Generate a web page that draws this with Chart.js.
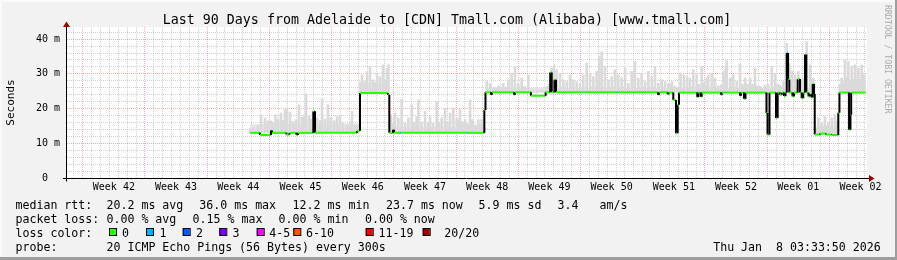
<!DOCTYPE html>
<html>
<head>
<meta charset="utf-8" />
<title>Last 90 Days from Adelaide to [CDN] Tmall.com</title>
<script src="https://cdn.jsdelivr.net/npm/chart.js"></script>
<style>
    body { margin: 0; background: #f2f2f2; }
    canvas { display: block; }
</style>
</head>
<body>
<canvas id="smoke" width="897" height="260"></canvas>
<script>
// x values are days from the left edge of the 90 day window
const weekNames = ['42', '43', '44', '45', '46', '47', '48', '49', '50', '51', '52', '01', '02'];
const firstMonday = 1.77; // where the "Week 42" line sits

// y grid every 2 ms, labels only every 10
const yLabelMs = [0, 10, 20, 30, 40];
const yLabels = ['0  ', '10 m', '20 m', '30 m', '40 m'];

// median rtt (ms), step points
const medianDay = [20.59, 21.71, 21.71, 22.95, 22.95, 23.06, 23.06, 24.69, 24.69, 25.03, 25.03, 25.82, 25.82, 25.99, 25.99,
    27.71, 27.71, 27.90, 27.90, 32.63, 32.63, 32.96, 32.96, 36.11, 36.11, 36.26, 36.26, 36.68, 36.68, 36.79, 36.79,
    37.46, 37.60, 44.97, 45.10, 46.95, 46.95, 47.08, 47.08, 47.70, 47.70, 47.81, 47.81, 50.29, 50.29, 50.40, 50.40,
    52.20, 52.20, 53.85, 53.85, 54.36, 54.36, 54.53, 54.53, 54.84, 54.84, 55.01, 55.01, 57.97, 58.08, 61.88, 61.99,
    66.49, 66.49, 66.60, 66.60, 67.58, 67.58, 67.69, 67.69, 68.21, 68.21, 68.51, 68.51, 68.70, 68.70, 68.85, 68.85,
    70.91, 70.91, 71.02, 71.02, 71.29, 71.29, 71.40, 71.40, 73.58, 73.58, 73.69, 73.69, 74.03, 74.14,
    75.71, 75.71, 75.83, 75.83, 76.16, 76.16, 76.33, 76.33, 78.69, 78.69, 78.81, 78.81, 79.03, 79.03,
    79.76, 79.76, 79.95, 79.95, 80.21, 80.21, 80.44, 80.44, 80.66, 80.66, 80.83, 80.83, 80.97, 80.97, 81.12, 81.12,
    81.26, 81.26, 81.62, 81.62, 81.79, 81.79, 82.20, 82.20, 82.46, 82.46, 82.65, 82.65, 82.83, 82.83, 83.03, 83.03,
    83.17, 83.17, 83.42, 83.42, 83.59, 83.59, 83.78, 83.78, 83.89, 83.89, 84.04, 84.04, 84.12, 84.12, 84.71, 84.71,
    85.39, 85.39, 86.06, 86.06, 86.77, 86.77, 86.90, 86.90, 87.98, 87.98, 88.14, 88.14, 88.22, 88.22, 89.85];
const medianMs = [13.0, 13.0, 12.4, 12.4, 13.7, 13.7, 13.0, 13.0, 12.5, 12.5, 13.0, 13.0, 12.4, 12.4, 13.0,
    13.0, 19.2, 19.2, 13.0, 13.0, 13.6, 13.6, 24.5, 24.5, 24.0, 24.0, 13.0, 13.0, 13.9, 13.9, 13.0,
    13.0, 13.0, 13.0, 13.0, 13.0, 19.6, 19.6, 24.7, 24.7, 24.0, 24.0, 24.7, 24.7, 24.0, 24.0, 24.7,
    24.7, 23.7, 23.7, 24.7, 24.7, 30.4, 30.4, 24.7, 24.7, 28.3, 28.3, 24.7, 24.7, 24.7, 24.7, 24.7,
    24.7, 24.0, 24.0, 24.7, 24.7, 24.1, 24.1, 24.6, 24.6, 22.5, 22.5, 12.9, 12.9, 21.1, 21.1, 24.6,
    24.6, 23.3, 23.3, 24.6, 24.6, 23.4, 23.4, 24.6, 24.6, 24.0, 24.0, 24.6, 24.6, 24.6,
    24.6, 23.7, 23.7, 24.6, 24.6, 22.8, 22.8, 24.6, 24.6, 18.7, 18.7, 12.5, 12.5, 24.6,
    24.6, 17.3, 17.3, 24.6, 24.6, 24.0, 24.0, 24.6, 24.6, 23.6, 23.6, 24.6, 24.6, 36.0, 36.0, 28.3,
    28.3, 24.6, 24.6, 23.5, 23.5, 24.6, 24.6, 28.5, 28.5, 24.6, 24.6, 23.0, 23.0, 24.6, 24.6, 35.6,
    35.6, 24.6, 24.6, 23.5, 23.5, 24.2, 24.2, 23.2, 23.2, 27.1, 27.1, 24.2, 24.2, 12.5, 12.5, 12.8,
    12.8, 12.5, 12.5, 12.4, 12.4, 18.8, 18.8, 24.6, 24.6, 13.9, 13.9, 18.2, 18.2, 24.6, 24.6];
// ends of the short stretches where 1 of 20 pings was lost
const lossOneEnds = [37.60, 45.10, 58.08, 61.99, 74.14, 81.12, 84.12];

// smoke: highest ping per slot (ms)
const smokeDay = [20.59, 20.93, 21.26, 21.49, 21.83, 22.28, 22.61, 22.95, 23.18, 23.46, 23.74, 24.08, 24.30, 24.53, 24.75,
    25.09, 25.43, 25.76, 26.10, 26.44, 26.66, 26.89, 27.23, 27.45, 28.13, 28.46, 28.69, 29.03, 29.36, 29.70, 30.04,
    30.38, 30.71, 31.05, 31.50, 31.84, 32.06, 32.40, 32.74,
    33.02, 33.19, 33.53, 33.75, 34.09, 34.43, 34.65, 34.88, 35.21, 35.55, 35.78, 36.00, 36.17,
    36.45, 36.68, 36.90, 37.27, 37.65, 38.03, 38.40, 38.78, 39.04, 39.34, 39.52, 39.88, 40.28, 40.61, 40.84, 41.18,
    41.59, 41.85, 42.15, 42.53, 42.81, 43.09, 43.46, 43.84, 44.02, 44.21, 44.40, 44.61, 44.78, 44.97, 45.17, 45.34,
    45.53, 45.73, 45.90, 46.09, 46.27, 46.46, 46.65, 46.84,
    47.22, 47.59, 47.96, 48.26, 48.52, 48.83, 49.08, 49.39, 49.65, 50.03, 50.40, 50.77, 51.15, 51.53, 51.90, 52.28,
    52.54, 52.84, 53.10, 53.40, 53.66, 53.97, 54.23, 54.53, 54.79, 55.09, 55.46, 55.84, 56.22, 56.59, 56.96, 57.34,
    57.71, 58.08, 58.47, 58.84, 59.21, 59.59, 59.88, 60.15, 60.53, 60.90, 61.28, 61.65, 62.02, 62.40, 62.78, 63.15,
    63.53, 63.90, 64.27, 64.65, 65.03, 65.40, 65.78, 66.15, 66.52, 66.90, 67.28, 67.65,
    67.84, 68.06, 68.40, 68.68, 69.02, 69.40, 69.77, 70.09, 70.46, 70.84, 71.10, 71.40, 71.66, 71.96, 72.14, 72.53,
    72.90, 73.24, 73.58, 73.84, 74.10, 74.21, 74.59, 74.96, 75.34, 75.71, 75.99, 76.28, 76.56, 76.84, 77.12, 77.40,
    77.68, 77.96, 78.19, 78.53, 78.86, 79.28, 79.65, 79.99, 80.21, 80.59, 80.97, 81.26, 81.53, 81.90, 82.27, 82.65,
    82.91, 83.21, 83.59, 83.96,
    84.26, 84.52, 84.71, 84.90, 85.09, 85.27, 85.46, 85.65, 85.84, 86.03, 86.21, 86.40, 86.59,
    86.96, 87.15, 87.34, 87.53, 87.72, 87.90, 88.09, 88.28, 88.47, 88.65, 88.84, 89.03, 89.22, 89.40, 89.55, 89.70];
const smokeTop = [14.2, 14.5, 14.0, 15.0, 18.2, 17.3, 16.5, 16.5, 16.0, 18.2, 17.0, 18.7, 16.5, 19.7, 20.1,
    19.0, 16.3, 16.8, 21.1, 17.5, 18.2, 24.2, 17.8, 17.0, 17.3, 16.5, 22.8, 17.0, 21.1, 17.5, 16.5,
    17.7, 18.0, 16.0, 15.5, 16.0, 19.2, 15.5, 15.3,
    27.5, 29.7, 27.8, 30.7, 32.1, 28.3, 27.5, 29.7, 29.2, 32.6, 28.0, 31.6, 32.6,
    18.2, 15.5, 18.7, 17.3, 22.7, 15.8, 17.3, 21.1, 16.0, 17.7, 22.5, 16.0, 19.2, 16.0, 17.7, 15.8,
    22.0, 16.0, 17.3, 20.1, 16.0, 18.7, 20.1, 17.3, 16.8, 19.7, 16.3, 15.5, 16.8, 15.8, 15.3, 22.5,
    16.8, 15.3, 15.3, 15.0, 16.8, 15.3, 16.8, 15.0,
    27.8, 27.3, 26.0, 26.0, 26.4, 26.0, 27.3, 26.2, 28.3, 30.2, 32.1, 27.3, 28.8, 26.4, 29.7, 25.4,
    25.0, 25.4, 25.0, 25.4, 25.2, 26.4, 27.0, 31.6, 32.6, 31.2, 30.2, 28.3, 27.8, 29.7, 28.3, 27.8,
    27.3, 29.7, 33.1, 30.2, 29.2, 30.7, 35.0, 36.4, 32.1, 28.3, 29.2, 31.2, 29.7, 28.8, 31.6, 27.3,
    30.7, 33.6, 28.8, 30.2, 27.8, 30.7, 29.2, 32.1, 27.3, 28.3, 27.8, 27.3,
    27.0, 27.8, 26.5, 26.0, 30.2, 29.7, 29.2, 28.8, 31.2, 29.7, 27.0, 32.1, 27.5, 28.8, 29.7, 30.2,
    28.8, 26.5, 26.8, 30.7, 32.1, 33.8, 28.8, 29.7, 27.8, 32.8, 27.0, 28.8, 27.0, 28.8, 27.0, 31.7,
    26.5, 26.4, 25.9, 26.8, 27.0, 32.1, 30.2, 27.0, 26.8, 27.8, 38.8, 33.0, 30.7, 29.7, 30.7, 27.8,
    28.5, 39.3, 32.6, 28.8,
    14.5, 17.3, 15.0, 15.8, 14.8, 17.7, 15.0, 15.8, 14.8, 17.3, 15.0, 18.2, 16.3,
    27.0, 28.8, 27.5, 34.0, 29.0, 33.6, 28.0, 32.1, 28.5, 32.6, 28.0, 31.7, 28.5, 32.6, 28.0, 29.7];

// dense smoke just above each median plateau
const bandFrom = [20.59, 32.96, 36.26, 47.08, 84.15, 86.90];
const bandTo = [32.96, 36.26, 46.95, 84.10, 86.77, 89.85];
const bandLow = [13.0, 24.5, 13.0, 24.7, 12.6, 24.6];
const bandHigh = [15.5, 27.3, 14.8, 26.0, 14.0, 27.0];

const lossNames = ['0', '1', '2', '3', '4-5', '6-10', '11-19', '20/20'];
const lossColors = ['#26ff00', '#00b8ff', '#0059ff', '#7e00ff', '#ff00ff', '#ff5500', '#ff0000', '#a00000'];

const rttStats = ['20.2 ms avg', '36.0 ms max', '12.2 ms min', '23.7 ms now', '5.9 ms sd', '3.4   am/s'];
const lossStats = ['0.00 % avg', '0.15 % max', '0.00 % min', '0.00 % now'];
const probeText = '20 ICMP Echo Pings (56 Bytes) every 300s';
const stamp = 'Thu Jan  8 03:33:50 2026';
const title = 'Last 90 Days from Adelaide to [CDN] Tmall.com (Alibaba) [www.tmall.com]';

const MONO = '"DejaVu Sans Mono", monospace';
const RED_GRID = 'rgba(255, 0, 0, 0.33)';
const GRAY_GRID = 'rgba(150, 150, 150, 0.45)';

// grid lines every day, red ones on mondays
const dayLines = [];
for (let d = firstMonday - 1; d < 90; d += 1) dayLines.push(+d.toFixed(2));
const isMonday = v => Math.abs(((v - firstMonday) % 7 + 7) % 7) < 0.01;
const yLines = [];
for (let v = 0; v <= 42; v += 2) yLines.push(v);

function plateauLow(d) {
    for (let i = 0; i < bandFrom.length; i++) {
        if (d >= bandFrom[i] - 0.01 && d <= bandTo[i] + 0.01) return bandLow[i];
    }
    return bandLow[0];
}

function bandPoints(vals) {
    const out = [];
    bandFrom.forEach((f, i) => {
        out.push({ x: f, y: vals[i] }, { x: bandTo[i], y: vals[i] }, { x: bandTo[i], y: null });
    });
    return out;
}

const decor = {
    id: 'decor',
    beforeDraw(chart) {
        const { ctx, chartArea: a } = chart;
        ctx.save();
        ctx.fillStyle = '#f2f2f2';
        ctx.fillRect(0, 0, 897, 260);
        ctx.fillStyle = '#fafafa';
        ctx.fillRect(0, 0, 897, 2);
        ctx.fillRect(0, 0, 2, 260);
        ctx.fillStyle = '#9e9e9e';
        ctx.fillRect(0, 257, 897, 3);
        ctx.fillRect(895, 0, 2, 260);
        ctx.fillStyle = '#ffffff';
        ctx.fillRect(a.left, a.top, a.right - a.left, a.bottom - a.top);
        ctx.restore();
    },
    afterDraw(chart) {
        const { ctx, chartArea: a } = chart;
        const y0 = Math.round(chart.scales.y.getPixelForValue(0)) + 0.5;
        const x0 = Math.round(a.left) - 0.5;
        ctx.save();
        // axes
        ctx.strokeStyle = '#000';
        ctx.lineWidth = 1;
        ctx.beginPath();
        ctx.moveTo(63, y0); ctx.lineTo(870, y0);
        ctx.moveTo(x0, y0 + 3); ctx.lineTo(x0, a.top - 2);
        ctx.stroke();
        ctx.fillStyle = '#9b0000';
        ctx.beginPath();
        ctx.moveTo(x0 - 3.5, a.top); ctx.lineTo(x0 + 3.5, a.top); ctx.lineTo(x0, a.top - 5.5);
        ctx.closePath(); ctx.fill();
        ctx.beginPath();
        ctx.moveTo(869, y0 - 3.5); ctx.lineTo(869, y0 + 3.5); ctx.lineTo(874.5, y0);
        ctx.closePath(); ctx.fill();

        // title
        ctx.fillStyle = '#000';
        ctx.font = '13.3px ' + MONO;
        ctx.textAlign = 'center';
        ctx.textBaseline = 'alphabetic';
        ctx.fillText(title, 447, 24);

        // legend
        ctx.font = '11.6px ' + MONO;
        ctx.textAlign = 'left';
        ctx.fillText('median rtt:', 15.5, 208.5);
        [106.5, 199.3, 292.6, 386, 478.6, 557.6].forEach((x, i) => ctx.fillText(rttStats[i], x, 208.5));
        ctx.fillText('packet loss:', 15.5, 222.5);
        [106.5, 192.6, 278.6, 365].forEach((x, i) => ctx.fillText(lossStats[i], x, 222.5));
        ctx.fillText('loss color:', 15.5, 236.5);
        const boxX = [109, 146, 182.7, 219.3, 256.7, 293.3, 365.7, 422.7];
        const textX = [122, 159.5, 196, 232.6, 269.3, 306, 378.6, 444.3];
        lossNames.forEach((n, i) => {
            ctx.fillStyle = lossColors[i];
            ctx.fillRect(boxX[i], 228, 7, 7);
            ctx.strokeStyle = '#000';
            ctx.strokeRect(boxX[i] + 0.5, 228.5, 7, 7);
            ctx.fillStyle = '#000';
            ctx.fillText(n, textX[i], 236.5);
        });
        ctx.fillText('probe:', 15.5, 250.5);
        ctx.fillText(probeText, 106.5, 250.5);
        ctx.textAlign = 'right';
        ctx.fillText(stamp, 880.7, 250.5);

        // watermark
        ctx.translate(884.5, 5);
        ctx.rotate(Math.PI / 2);
        ctx.textAlign = 'left';
        ctx.fillStyle = '#aaaaaa';
        ctx.font = '8.2px ' + MONO;
        ctx.fillText('RRDTOOL / TOBI OETIKER', 0, 0);
        ctx.restore();
    }
};

new Chart(document.getElementById('smoke'), {
    type: 'bar',
    data: {
        datasets: [
            {
                type: 'line',
                label: 'median rtt',
                data: medianDay.map((d, i) => ({ x: d, y: medianMs[i] })),
                borderColor: lossColors[0],
                borderWidth: 2,
                pointRadius: 0,
                tension: 0,
                order: 0,
                segment: {
                    borderColor: c => c.p0.parsed.x === c.p1.parsed.x ? '#000000'
                        : (lossOneEnds.includes(c.p1.parsed.x) ? lossColors[1] : lossColors[0])
                }
            },
            {
                type: 'bar',
                label: 'smoke',
                data: smokeDay.map((d, i) => ({ x: d, y: [plateauLow(d), smokeTop[i]] })),
                backgroundColor: '#dadada',
                borderWidth: 0,
                barThickness: 2,
                order: 1
            },
            {
                type: 'line',
                label: 'band',
                data: bandPoints(bandHigh),
                borderColor: 'rgba(0,0,0,0)',
                backgroundColor: '#e5e5e5',
                pointRadius: 0,
                fill: '+1',
                order: 2
            },
            {
                type: 'line',
                label: 'band base',
                data: bandPoints(bandLow),
                borderColor: 'rgba(0,0,0,0)',
                pointRadius: 0,
                fill: false,
                order: 3
            }
        ]
    },
    options: {
        responsive: false,
        animation: false,
        events: [],
        layout: { padding: { left: 0, top: 27, right: 30, bottom: 0 } },
        plugins: { legend: { display: false }, tooltip: { enabled: false }, title: { display: false } },
        scales: {
            x: {
                type: 'linear', position: 'bottom', min: 0, max: 90, bounds: 'data', offset: false, weight: 0,
                afterBuildTicks: s => { s.ticks = dayLines.map(v => ({ value: v })); },
                afterFit: s => { s.height = 0; s.paddingLeft = 0; s.paddingRight = 0; },
                ticks: { display: false, autoSkip: false },
                grid: {
                    offset: false, drawTicks: false, lineWidth: 1,
                    color: c => isMonday(c.tick.value) ? RED_GRID : GRAY_GRID
                },
                border: { display: false, dash: [1, 1] }
            },
            xw: {
                type: 'linear', axis: 'x', position: 'bottom', min: 0, max: 90, bounds: 'data', offset: false, weight: 1,
                afterBuildTicks: s => { s.ticks = weekNames.map((n, k) => ({ value: firstMonday + 3.5 + 7 * k })); },
                afterFit: s => { s.height = 82; s.paddingLeft = 0; s.paddingRight = 0; },
                ticks: {
                    autoSkip: false, maxRotation: 0, minRotation: 0, padding: 3, color: '#000',
                    font: { family: MONO, size: 10 },
                    callback: (v, i) => 'Week ' + weekNames[i]
                },
                grid: { display: false, drawTicks: false },
                border: { display: false }
            },
            y: {
                type: 'linear', min: 0, max: 43.5, bounds: 'data',
                afterBuildTicks: s => { s.ticks = yLines.map(v => ({ value: v })); },
                afterFit: s => { s.width = 67; s.paddingTop = 0; s.paddingBottom = 0; },
                ticks: {
                    autoSkip: false, padding: 7, color: '#000',
                    font: { family: MONO, size: 10 },
                    callback: v => {
                        const i = yLabelMs.indexOf(v);
                        return i < 0 ? '' : yLabels[i];
                    }
                },
                grid: {
                    drawTicks: false, lineWidth: 1,
                    color: c => c.tick.value % 10 === 0 ? RED_GRID : GRAY_GRID
                },
                border: { display: false, dash: [1, 1] },
                title: {
                    display: true, text: 'Seconds', color: '#000',
                    font: { family: MONO, size: 11 },
                    padding: { top: 4.5, bottom: 0 }
                }
            }
        }
    },
    plugins: [decor]
});
</script>
</body>
</html>
